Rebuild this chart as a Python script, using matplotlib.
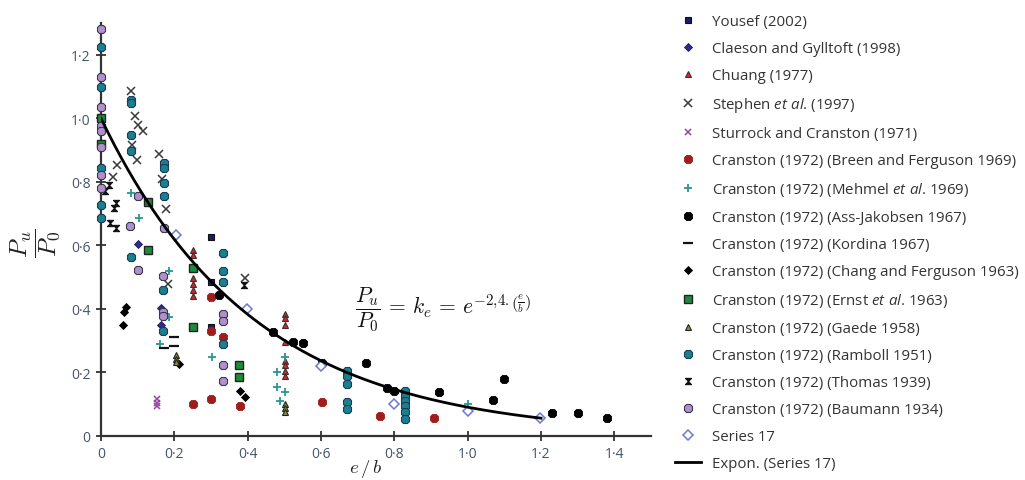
import numpy as np
import matplotlib
matplotlib.use("Agg")
import matplotlib.pyplot as plt
from matplotlib.path import Path
from matplotlib.ticker import FixedLocator, FuncFormatter

plt.rcParams['font.family'] = ['Open Sans', 'DejaVu Sans']
plt.rcParams['mathtext.fontset'] = 'custom'
plt.rcParams['mathtext.rm'] = 'Open Sans'
plt.rcParams['mathtext.it'] = 'Open Sans:italic'

# ---------------- data ----------------
yousef_x = [0.30, 0.30, 0.30]
yousef_y = [0.625, 0.486, 0.344]

claeson_x = [0.101, 0.164, 0.164]
claeson_y = [0.603, 0.404, 0.350]

chuang_x = [0.251, 0.251, 0.251, 0.251, 0.251, 0.251,
            0.502, 0.502, 0.502, 0.502, 0.502, 0.502, 0.502, 0.502]
chuang_y = [0.587, 0.571, 0.496, 0.477, 0.458, 0.442,
            0.385, 0.370, 0.350, 0.297, 0.237, 0.224, 0.205, 0.190]

stephen_x = [0.082, 0.093, 0.101, 0.115, 0.085, 0.098, 0.044, 0.033,
             0.158, 0.166, 0.177, 0.183, 0.393]
stephen_y = [1.086, 1.007, 0.979, 0.960, 0.916, 0.868, 0.853, 0.815,
             0.887, 0.808, 0.714, 0.480, 0.496]

sturrock_x = [0.153, 0.153, 0.153]
sturrock_y = [0.117, 0.104, 0.095]

breen_x = [0.30, 0.30, 0.333, 0.251, 0.30, 0.379, 0.603, 0.761, 0.909]
breen_y = [0.439, 0.330, 0.312, 0.100, 0.117, 0.095, 0.107, 0.063, 0.056]

mehmel_x = [0.082, 0.104, 0.186, 0.186, 0.161, 0.303, 0.502, 0.480, 0.480, 0.502, 0.488, 1.000]
mehmel_y = [0.764, 0.685, 0.520, 0.376, 0.290, 0.249, 0.249, 0.200, 0.155, 0.139, 0.110, 0.100]

assj_x = [0.322, 0.470, 0.524, 0.551, 0.603, 0.723, 0.780, 0.800, 0.922,
          1.070, 1.100, 1.230, 1.300, 1.380]
assj_y = [0.445, 0.328, 0.297, 0.294, 0.230, 0.230, 0.152, 0.142, 0.139,
          0.113, 0.180, 0.073, 0.073, 0.057]

kordina_x = [0.200, 0.200, 0.172]
kordina_y = [0.312, 0.284, 0.278]

chang_x = [0.060, 0.068, 0.063, 0.213, 0.379, 0.393]
chang_y = [0.350, 0.407, 0.390, 0.227, 0.142, 0.123]

ernst_x = [0.0, 0.0, 0.128, 0.128, 0.251, 0.251, 0.377, 0.377]
ernst_y = [1.000, 0.920, 0.735, 0.587, 0.530, 0.344, 0.224, 0.186]

gaede_x = [0.205, 0.205, 0.205, 0.502, 0.502, 0.502]
gaede_y = [0.256, 0.243, 0.232, 0.100, 0.088, 0.076]

ramboll_x = [0.0, 0.0, 0.0, 0.0, 0.0,
             0.082, 0.082, 0.082, 0.082,
             0.172, 0.172, 0.172, 0.172,
             0.082, 0.170, 0.170,
             0.333, 0.333, 0.333, 0.333,
             0.672, 0.672, 0.672, 0.672, 0.672,
             0.830, 0.830, 0.830, 0.830, 0.830, 0.830]
ramboll_y = [1.225, 1.100, 0.843, 0.727, 0.685,
             1.058, 1.048, 0.947, 0.898,
             0.860, 0.843, 0.795, 0.755,
             0.565, 0.460, 0.330,
             0.575, 0.518, 0.486, 0.290,
             0.205, 0.190, 0.164, 0.107, 0.085,
             0.142, 0.126, 0.110, 0.095, 0.076, 0.054]

thomas_x = [0.011, 0.022, 0.041, 0.036, 0.025, 0.041, 0.390]
thomas_y = [0.770, 0.790, 0.733, 0.717, 0.670, 0.655, 0.475]

baumann_x = [0.0, 0.0, 0.0, 0.0, 0.0, 0.0, 0.0, 0.0,
             0.080, 0.100, 0.172, 0.100, 0.170, 0.170, 0.170,
             0.333, 0.333, 0.333, 0.333]
baumann_y = [1.280, 1.130, 1.035, 0.975, 0.960, 0.910, 0.820, 0.780,
             0.660, 0.757, 0.655, 0.521, 0.505, 0.390, 0.378,
             0.385, 0.363, 0.224, 0.173]

series17_x = [0.205, 0.398, 0.600, 0.800, 1.000, 1.198]
series17_y = [0.632, 0.400, 0.220, 0.100, 0.080, 0.057]

expon_k = -2.4          # exponent shown on the chart
expon_range = (0.0, 1.2)

x_ticks = [0, 0.2, 0.4, 0.6, 0.8, 1.0, 1.2, 1.4]
y_ticks = [0, 0.2, 0.4, 0.6, 0.8, 1.0, 1.2]

# ---------------- figure ----------------
fig = plt.figure(figsize=(10.25, 4.81), dpi=100)
ax = fig.add_axes([101/1025, 1-437/481, 550/1025, 413/481])

hourglass = Path([(-1, 1), (1, 1), (-1, -1), (1, -1), (-1, 1)],
                 [Path.MOVETO, Path.LINETO, Path.LINETO, Path.LINETO, Path.CLOSEPOLY])

series = [
    (yousef_x, yousef_y, 'Yousef (2002)', dict(marker='s', ms=4.5, mfc='#1c1c6e', mec='#111', mew=0.8)),
    (claeson_x, claeson_y, 'Claeson and Gylltoft (1998)', dict(marker='D', ms=3.8, mfc='#2b2b8f', mec='#1a1a5a', mew=0.6)),
    (chuang_x, chuang_y, 'Chuang (1977)', dict(marker='^', ms=5, mfc='#d42525', mec='#333', mew=0.8)),
    (stephen_x, stephen_y, r'Stephen $\mathit{et\ al}$. (1997)', dict(marker='x', ms=5.5, mfc='none', mec='#3a3a3a', mew=1.1)),
    (sturrock_x, sturrock_y, 'Sturrock and Cranston (1971)', dict(marker='x', ms=4, mfc='none', mec='#9a3fa8', mew=1.1)),
    (breen_x, breen_y, 'Cranston (1972) (Breen and Ferguson 1969)', dict(marker='8', ms=6.5, mfc='#9e1d1d', mec='#9e1d1d', mew=0.6)),
    (mehmel_x, mehmel_y, r'Cranston (1972) (Mehmel $\mathit{et\ al}$. 1969)', dict(marker='+', ms=6, mfc='none', mec='#2a9595', mew=1.3)),
    (assj_x, assj_y, 'Cranston (1972) (Ass-Jakobsen 1967)', dict(marker='8', ms=6.5, mfc='#000000', mec='#000000', mew=0.6)),
    (kordina_x, kordina_y, 'Cranston (1972) (Kordina 1967)', dict(marker='_', ms=7, mfc='none', mec='#111', mew=1.6)),
    (chang_x, chang_y, 'Cranston (1972) (Chang and Ferguson 1963)', dict(marker='D', ms=4.5, mfc='#000000', mec='#000000', mew=0.6)),
    (ernst_x, ernst_y, r'Cranston (1972) (Ernst $\mathit{et\ al}$. 1963)', dict(marker='s', ms=5.5, mfc='#1f8a3c', mec='#222', mew=1.0)),
    (gaede_x, gaede_y, 'Cranston (1972) (Gaede 1958)', dict(marker='^', ms=4.5, mfc='#8c8c3a', mec='#222', mew=0.8)),
    (ramboll_x, ramboll_y, 'Cranston (1972) (Ramboll 1951)', dict(marker='8', ms=6, mfc='#1b7f8e', mec='#1a3d5a', mew=0.8)),
    (thomas_x, thomas_y, 'Cranston (1972) (Thomas 1939)', dict(marker=hourglass, ms=4.5, mfc='#111', mec='#111', mew=0.8)),
    (baumann_x, baumann_y, 'Cranston (1972) (Baumann 1934)', dict(marker='8', ms=6, mfc='#b08fcc', mec='#3a3a4a', mew=0.8)),
    (series17_x, series17_y, 'Series 17', dict(marker='D', ms=5, mfc='white', mec='#6a7ad6', mew=1.1)),
]

handles = []
for xs, ys, lab, st in series:
    h, = ax.plot(xs, ys, linestyle='none', label=lab, clip_on=False, zorder=3, **st)
    handles.append(h)

xx = np.linspace(expon_range[0], expon_range[1], 200)
hl, = ax.plot(xx, np.exp(expon_k * xx), color='black', lw=2.0, zorder=4,
              label='Expon. (Series 17)')
handles.append(hl)

ax.set_xlim(0, 1.5)
ax.set_ylim(0, 1.3)
for s in ['top', 'right']:
    ax.spines[s].set_visible(False)
for s in ['left', 'bottom']:
    ax.spines[s].set_color('#333333')
    ax.spines[s].set_linewidth(1.6)

dotfmt = FuncFormatter(lambda v, p: '0' if abs(v) < 1e-9 else ('%.1f' % v).replace('.', '\u00b7'))
ax.xaxis.set_major_locator(FixedLocator(x_ticks))
ax.yaxis.set_major_locator(FixedLocator(y_ticks))
ax.xaxis.set_major_formatter(dotfmt)
ax.yaxis.set_major_formatter(dotfmt)
ax.tick_params(direction='inout', length=7, width=1.3, color='#333333',
               labelcolor='#44546a', labelsize=10, pad=4)

fig.text(366/1025, 1 - 469/481, r'$e\,/\,b$', fontsize=13.5, math_fontfamily='cm',
         color='#222', ha='center', va='center')
fig.text(35/1025, 1 - 243/481, r'$\dfrac{P_u}{P_0}$', fontsize=18, math_fontfamily='cm',
         color='#222', ha='center', va='center', rotation=90)

ax.text(0.693, 0.40,
        r'$\dfrac{P_u}{P_0} \,=\, k_e \,=\, e^{-2{,}4.\left(\frac{e}{b}\right)}$',
        fontsize=15.5, math_fontfamily='cm', color='#111', va='center', ha='left')

fig.legend(handles=handles, loc='upper left', bbox_to_anchor=(675/1025, 1 - 15/481),
           frameon=False, fontsize=10.8, labelspacing=0.80, handlelength=1.7,
           handletextpad=0.75, borderpad=0, borderaxespad=0, labelcolor='#333333')

fig.savefig('out.png', dpi=100)
